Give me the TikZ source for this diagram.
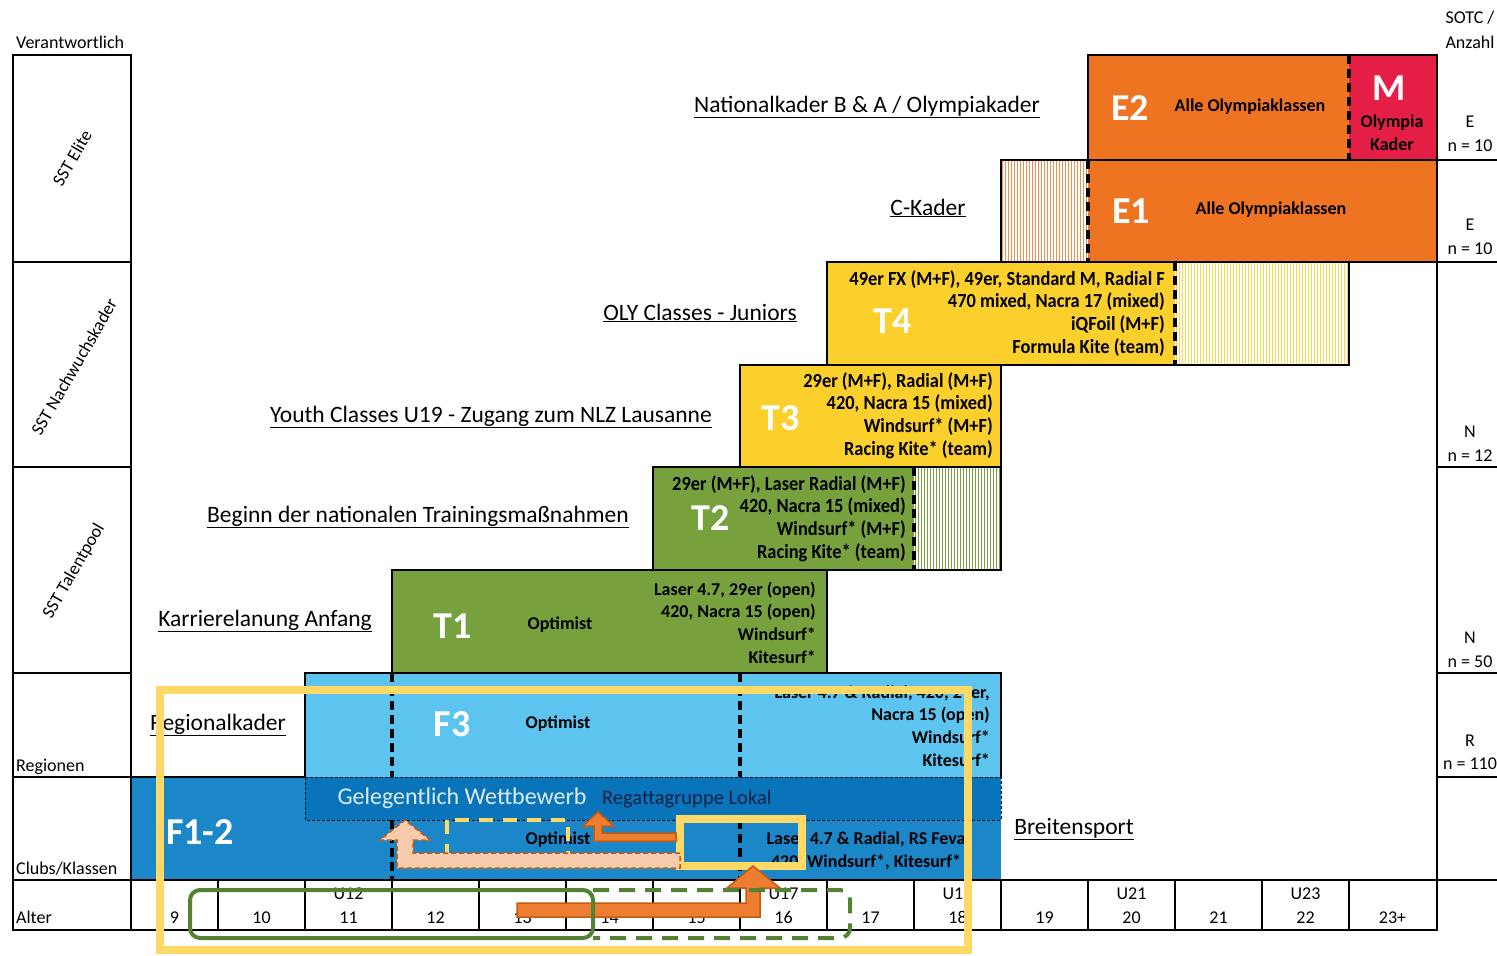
\documentclass[tikz,border=0pt]{standalone}
\usepackage{fontspec}
\setmainfont{Carlito}
\newfontfamily\condfont[FakeStretch=0.92]{Carlito}
\definecolor{cE}{HTML}{EE7421}
\definecolor{cM}{HTML}{E41E45}
\definecolor{cT}{HTML}{FBCF2C}
\definecolor{cG}{HTML}{77A13D}
\definecolor{cFiii}{HTML}{5CC4EE}
\definecolor{cFi}{HTML}{1B86C8}
\definecolor{cBand}{HTML}{0A74BA}
\definecolor{cYel}{HTML}{FFD966}
\definecolor{cSalm}{HTML}{F8CBAD}
\definecolor{cBrown}{HTML}{C55A11}
\definecolor{cOra}{HTML}{ED7D31}
\definecolor{cGreen}{HTML}{548235}
\definecolor{cNavy}{HTML}{0E2247}
\definecolor{cGel}{HTML}{DCEBF7}
\tikzset{
 blk/.style={draw=black,line width=2.2pt},
 dsh/.style={draw=black,line width=3.2pt,dash pattern=on 9pt off 5pt},
 lab/.style={font=\fontsize{23.5}{27}\selectfont, anchor=base, inner sep=0pt},
 big/.style={font=\fontsize{38}{40}\selectfont\bfseries, text=white, anchor=base, inner sep=0pt},
 cls/.style={font=\fontsize{18}{22}\selectfont\bfseries, anchor=base, inner sep=0pt},
 clsr/.style={font=\condfont\bfseries\fontsize{20}{22}\selectfont, anchor=base east, inner sep=0pt},
 clsn/.style={font=\fontsize{18}{22}\selectfont\bfseries, anchor=base east, inner sep=0pt},
 sm/.style={font=\fontsize{18}{22}\selectfont, anchor=base, inner sep=0pt},
 rot/.style={font=\fontsize{18}{22}\selectfont, rotate=60, inner sep=0pt},
 hatchline/.style={line width=1.3pt},
 yframe/.style={draw=cYel,line width=8pt},
 arr/.style={draw=cBrown,line width=1.5pt,line join=miter}
}
\begin{document}
\begin{tikzpicture}[x=1pt,y=-1pt]
\useasboundingbox (0,0) rectangle (1497,956);
\fill[white] (0,0) rectangle (1497,956);
% ---------- fills
\fill[cE] (1088,55) rectangle (1349,160);
\fill[cM] (1349,55) rectangle (1437,160);
\fill[cE] (1088,160) rectangle (1437,262);
\fill[cT] (827,262) rectangle (1175,365);
\fill[cT] (740,365) rectangle (1001,467);
\fill[cG] (653,467) rectangle (914,570);
\fill[cG] (392,570) rectangle (827,673);
\fill[cFiii] (305,673) rectangle (1001,777);
\fill[cFi] (131,777) rectangle (1001,880);
% hatches
\foreach \i in {0,...,28} \draw[hatchline,cE!80] ({1002.5+3*\i},160) -- ++(0,102);
\foreach \i in {0,...,57} \draw[hatchline,cT!85] ({1176.5+3*\i},262) -- ++(0,103);
\foreach \i in {0,...,28} \draw[hatchline,cG] ({915.5+3*\i},467) -- ++(0,103);
% dashed separators
\draw[dsh] (1349,55) -- (1349,160);
\draw[dsh] (1088,160) -- (1088,262);
\draw[dsh] (1175,262) -- (1175,365);
\draw[dsh] (914,467) -- (914,570);
\draw[dsh] (392,673) -- (392,777);
\draw[dsh] (740,673) -- (740,777);
\draw[dsh] (392,820) -- (392,880);
\draw[dsh] (740,820) -- (740,880);
% band
\fill[cBand] (305,777) rectangle (1001,820);
\draw[black,line width=1pt,dash pattern=on 3pt off 2pt] (305,777) rectangle (1001,820);
% ---------- outlines
\draw[blk] (305,777) -- (305,673) -- (1001,673) -- (1001,777);
\draw[blk] (131,777) -- (305,777);
\draw[blk] (392,570) rectangle (827,673);
\draw[blk] (653,467) rectangle (1001,570);
\draw[blk] (740,365) rectangle (1001,467);
\draw[blk] (827,262) rectangle (1349,365);
\draw[blk] (1001,160) rectangle (1437,262);
\draw[blk] (1088,55) rectangle (1437,160);
\draw[blk] (13,55) rectangle (131,930);
\foreach \yy in {262,467,673,777,880} \draw[blk] (13,\yy) -- (131,\yy);
\draw[blk] (131,880) rectangle (1437,930);
\foreach \i in {1,...,14} \draw[blk] ({131+87*\i},880) -- ++(0,50);
\draw[blk] (1437,55) -- (1437,930);
\foreach \yy in {160,262,467,673,777,880} \draw[blk] (1437,\yy) -- (1497,\yy);
% ---------- header texts
\node[sm,anchor=base west] (verant) at (16,48) {Verantwortlich};
\node[sm] (sotc) at (1470,23) {SOTC /};
\node[sm] (anzahl) at (1470,48) {Anzahl};
\node[rot] (sste) at (72,158) {SST Elite};
\node[rot] (sstn) at (74,367) {SST Nachwuchskader};
\node[rot] (sstt) at (74,571) {SST Talentpool};
\node[sm,anchor=base west] (regionen) at (16,771) {Regionen};
\node[sm,anchor=base west] (clubs) at (16,874) {Clubs/Klassen};
\node[sm,anchor=base west] (alter) at (16,923) {Alter};
% right column
\node[sm] (r1a) at (1470,127) {E};
\node[sm] (r1b) at (1470,151) {n = 10};
\node[sm] (r2a) at (1470,230) {E};
\node[sm] (r2b) at (1470,254) {n = 10};
\node[sm] (r3a) at (1470,437) {N};
\node[sm] (r3b) at (1470,461) {n = 12};
\node[sm] (r4a) at (1470,643) {N};
\node[sm] (r4b) at (1470,667) {n = 50};
\node[sm] (r5a) at (1470,746) {R};
\node[sm] (r5b) at (1470,769) {n = 110};
% ages
\foreach \a [count=\i from 0] in {9,10,11,12,13,14,15,16,17,18,19,20,21,22,23+}
  \node[sm] (age\i) at ({174.5+87*\i},923) {\a};
\foreach \u/\i in {U12/2,U17/7,U19/9,U21/11,U23/13}
  \node[sm] (u\i) at ({174.5+87*\i},899) {\u};
% level labels
\node[lab] (nat) at (867,112) {\underline{Nationalkader B \& A / Olympiakader}};
\node[lab] (ckad) at (928,215) {\underline{C-Kader}};
\node[lab] (oly) at (700,320) {\underline{OLY Classes - Juniors}};
\node[lab] (youth) at (491,422) {\underline{Youth Classes U19 - Zugang zum NLZ Lausanne}};
\node[lab] (beginn) at (418,522) {\underline{Beginn der nationalen Trainingsmaßnahmen}};
\node[lab] (karr) at (265,626) {\underline{Karrierelanung Anfang}};
\node[lab] (regio) at (218,730) {\underline{Regionalkader}};
\node[lab] (breit) at (1074,834) {\underline{Breitensport}};
% block texts
\node[big] (E2) at (1130,120) {E2};
\node[cls] (e2t) at (1250,111) {Alle Olympiaklassen};
\node[big] (M) at (1389,100) {M};
\node[cls] (m1) at (1392,127) {Olympia};
\node[cls] (m2) at (1392,150) {Kader};
\node[big] (E1) at (1131,223) {E1};
\node[cls] (e1t) at (1271,214) {Alle Olympiaklassen};
\node[big] (T4) at (893,333) {T4};
\foreach \t [count=\i from 0] in {{49er FX (M+F), 49er, Standard M, Radial F},{470 mixed, Nacra 17 (mixed)},{iQFoil (M+F)},{Formula Kite (team)}}
  \node[clsr] (t4l\i) at (1165,{285+22.7*\i}) {\t};
\node[big] (T3) at (781,430) {T3};
\foreach \t [count=\i from 0] in {{29er (M+F), Radial (M+F)},{420, Nacra 15 (mixed)},{Windsurf* (M+F)},{Racing Kite* (team)}}
  \node[clsr] (t3l\i) at (993,{387+22.7*\i}) {\t};
\node[big] (T2) at (711,530) {T2};
\foreach \t [count=\i from 0] in {{29er (M+F), Laser Radial (M+F)},{420, Nacra 15 (mixed)},{Windsurf* (M+F)},{Racing Kite* (team)}}
  \node[clsr] (t2l\i) at (906,{490+22.7*\i}) {\t};
\node[big] (T1) at (453,638) {T1};
\node[cls] (t1o) at (560,629) {Optimist};
\foreach \t [count=\i from 0] in {{Laser 4.7, 29er (open)},{420, Nacra 15 (open)},{Windsurf*},{Kitesurf*}}
  \node[clsn] (t1l\i) at (816,{595+22.7*\i}) {\t};
\node[big] (F3) at (452,736) {F3};
\node[cls] (f3o) at (558,728) {Optimist};
\foreach \t [count=\i from 0] in {{Laser 4.7 \& Radial, 420, 29er,},{Nacra 15 (open)},{Windsurf*},{Kitesurf*}}
  \node[clsn] (f3l\i) at (990,{698+22.7*\i}) {\t};
\node[big] (F12) at (200,844) {F1-2};
\node[font=\fontsize{24}{28}\selectfont, text=cGel, anchor=base, inner sep=0pt] (gel) at (462,804) {Gelegentlich Wettbewerb};
\node[font=\fontsize{20.5}{24}\selectfont, text=cNavy, anchor=base west, inner sep=0pt] (rega) at (602,804) {Regattagruppe Lokal};
\node[cls] (f12o) at (558,844) {Optimist};
\node[cls] (f12a) at (866,844) {Laser 4.7 \& Radial, RS Feva};
\node[cls] (f12b) at (866,867) {420, Windsurf*, Kitesurf*};
% ---------- overlays
\draw[cYel,line width=4pt,dash pattern=on 14pt off 10pt] (447,820) rectangle (568,866);
\draw[yframe] (680,819) rectangle (802,866);
\filldraw[fill=cSalm,arr,dash pattern=on 5pt off 3pt]
  (680,853) -- (413,853) -- (413,840) -- (430,840) -- (405,820) -- (380,840) -- (397,840) -- (397,868) -- (680,868) -- cycle;
\filldraw[fill=cOra,arr]
  (676,833) -- (602,833) -- (602,826) -- (614,826) -- (598,812) -- (583,826) -- (594,826) -- (594,841) -- (676,841) -- cycle;
\filldraw[fill=cOra,arr]
  (517,903) -- (746,903) -- (746,888) -- (727,888) -- (753,866) -- (780,888) -- (760,888) -- (760,917) -- (517,917) -- cycle;
\draw[cGreen,line width=4pt,rounded corners=10pt] (190,890) rectangle (593,938);
\draw[cGreen,line width=4pt,rounded corners=10pt,dash pattern=on 16pt off 10pt] (593,890) -- (850,890) -- (850,938) -- (593,938);
\draw[yframe] (160,690) rectangle (968,950);
\end{tikzpicture}
\end{document}
